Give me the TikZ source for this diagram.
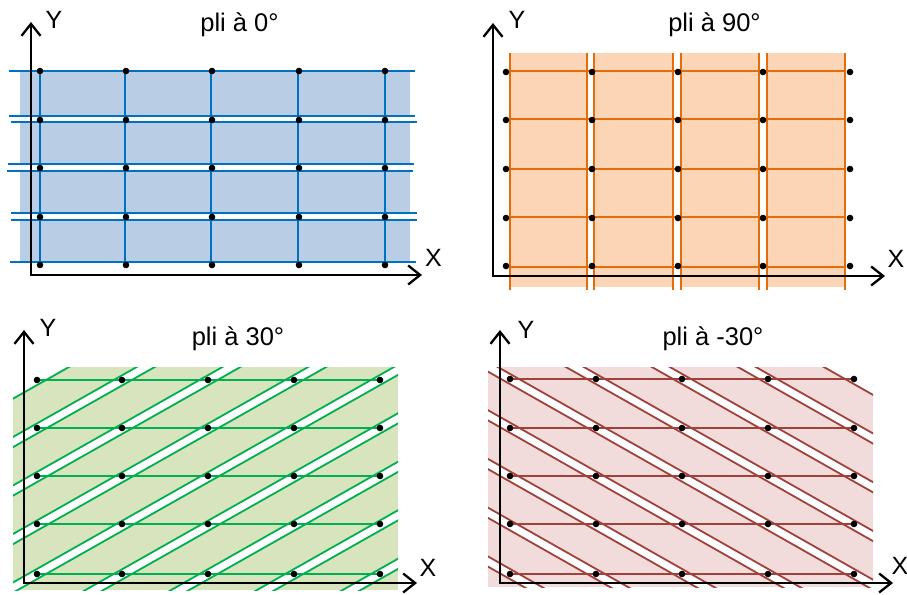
\documentclass[tikz,border=0pt]{standalone}
\usepackage{fontspec}
\setmainfont{Liberation Sans}
\usetikzlibrary{arrows.meta}
\definecolor{bline}{HTML}{0070C0}
\definecolor{bfill}{HTML}{B9CDE5}
\definecolor{oline}{HTML}{E46C0A}
\definecolor{ofill}{HTML}{FBD5B5}
\definecolor{gline}{HTML}{00B050}
\definecolor{gfill}{HTML}{D7E4BD}
\definecolor{rline}{HTML}{A0413C}
\definecolor{rfill}{HTML}{F2DCDB}
\tikzset{
  axtip/.tip={Straight Barb[length=12pt,width=19pt]},
  axis/.style={line width=2.3pt, line join=miter, axtip-axtip},
  ply/.style={line width=1.8pt},
  gapline/.style={white, line width=8pt},
  dotr/.style={radius=3.3pt},
  lbl/.style={font=\fontsize{25}{28}\selectfont, inner sep=0pt},
  ttl/.style={font=\fontsize{25.5}{28}\selectfont, inner sep=0pt, anchor=base},
}
\begin{document}
\begin{tikzpicture}[x=1pt,y=-1pt]
\useasboundingbox (0,0) rectangle (907,594);

% ---------------- panel 1 : pli a 0
\foreach \a/\b in {71/116,122/164,171/213,220/262}
  \fill[bfill] (20,\a) rectangle (410,\b);
\foreach \y/\l/\r in {71/9/415,116/9/415,122/11/417,164/8/414,171/7/413,213/11/417,220/11/417,262/10/416}
  \draw[ply,bline] (\l,\y) -- (\r,\y);
\foreach \x in {40,125,211,298,385}
  \draw[ply,bline] (\x,71) -- (\x,262);
\foreach \x in {40,126,212,299,385}
  \foreach \y in {71,120,168,217,265}
    \fill (\x,\y) circle[dotr];
\coordinate (o1) at (31,275);
\coordinate (y1) at (31,22);
\coordinate (x1) at (422,275);
\draw[axis] (y1) -- (o1) -- (x1);
\node[lbl] (Y1) at (54,20) {Y};
\node[lbl] (X1) at (433.5,258) {X};
\node[ttl] (T1) at (239.5,32) {pli à 0°};

% ---------------- panel 2 : pli a 90
\foreach \a/\b in {510/587,594/673,681/759,767/845}
  \fill[ofill] (\a,53) rectangle (\b,287);
\foreach \x in {510,587,594,673,681,759,767,845}
  \draw[ply,oline] (\x,53) -- (\x,290);
\foreach \y in {71,119,169,217,267}
  \draw[ply,oline] (510,\y) -- (845,\y);
\foreach \x in {506,592,678,763,850}
  \foreach \y in {72,120,169,218,266}
    \fill (\x,\y) circle[dotr];
\coordinate (o2) at (493,276);
\coordinate (y2) at (493,23);
\coordinate (x2) at (885,276);
\draw[axis] (y2) -- (o2) -- (x2);
\node[lbl] (Y2) at (517,20) {Y};
\node[lbl] (X2) at (896,259) {X};
\node[ttl] (T2) at (714.5,32) {pli à 90°};

% ---------------- panel 3 : pli a 30
\begin{scope}
  \clip (13,367) rectangle (398,590);
  \fill[gfill] (13,367) rectangle (398,590);
  \foreach \k in {-4,...,4} {
    \draw[gapline] ({37+85.75*\k-514.5},865) -- ({37+85.75*\k+514.5},283);
    \draw[ply,gline] ({37+85.75*\k-514.5+2.07},868.92) -- ({37+85.75*\k+514.5+2.07},286.92);
    \draw[ply,gline] ({37+85.75*\k-514.5-2.07},861.08) -- ({37+85.75*\k+514.5-2.07},279.08);
  }
  \fill[white] (-48.75,428.5) -- (122.75,331.5) -- (-48.75,331.5) -- cycle;
\end{scope}
\foreach \y in {380,428,476,524,574}
  \draw[ply,gline] (37,\y) -- (380,\y);
\foreach \x in {37,122,208,294,380}
  \foreach \y in {380,428,476,524,574}
    \fill (\x,\y) circle[dotr];
\coordinate (o3) at (24,583);
\coordinate (y3) at (24,330);
\coordinate (x3) at (417,583);
\draw[axis] (y3) -- (o3) -- (x3);
\node[lbl] (Y3) at (48,328) {Y};
\node[lbl] (X3) at (428,568) {X};
\node[ttl] (T3) at (238,345.5) {pli à 30°};

% ---------------- panel 4 : pli a -30
\begin{scope}
  \clip (488,367) rectangle (873,587);
  \fill[rfill] (488,367) rectangle (873,587);
  \foreach \k in {0,...,8} {
    \draw[gapline] ({510+86*\k-516},281.5) -- ({510+86*\k+516},866.5);
    \draw[ply,rline] ({510+86*\k-516-2.07},285.42) -- ({510+86*\k+516-2.07},870.42);
    \draw[ply,rline] ({510+86*\k-516+2.07},277.58) -- ({510+86*\k+516+2.07},862.58);
  }
  \fill[white] (768,330.25) -- (940,427.75) -- (940,330.25) -- cycle;
\end{scope}
\foreach \y in {379,428,476,524,574}
  \draw[ply,rline] (510,\y) -- (854,\y);
\foreach \x in {510,596,682,768,854}
  \foreach \y in {379,428,476,524,574}
    \fill (\x,\y) circle[dotr];
\coordinate (o4) at (500,583);
\coordinate (y4) at (500,330);
\coordinate (x4) at (893,583);
\draw[axis] (y4) -- (o4) -- (x4);
\node[lbl] (Y4) at (526,330) {Y};
\node[lbl] (X4) at (900,566) {X};
\node[ttl] (T4) at (713,345.5) {pli à -30°};
\end{tikzpicture}
\end{document}
